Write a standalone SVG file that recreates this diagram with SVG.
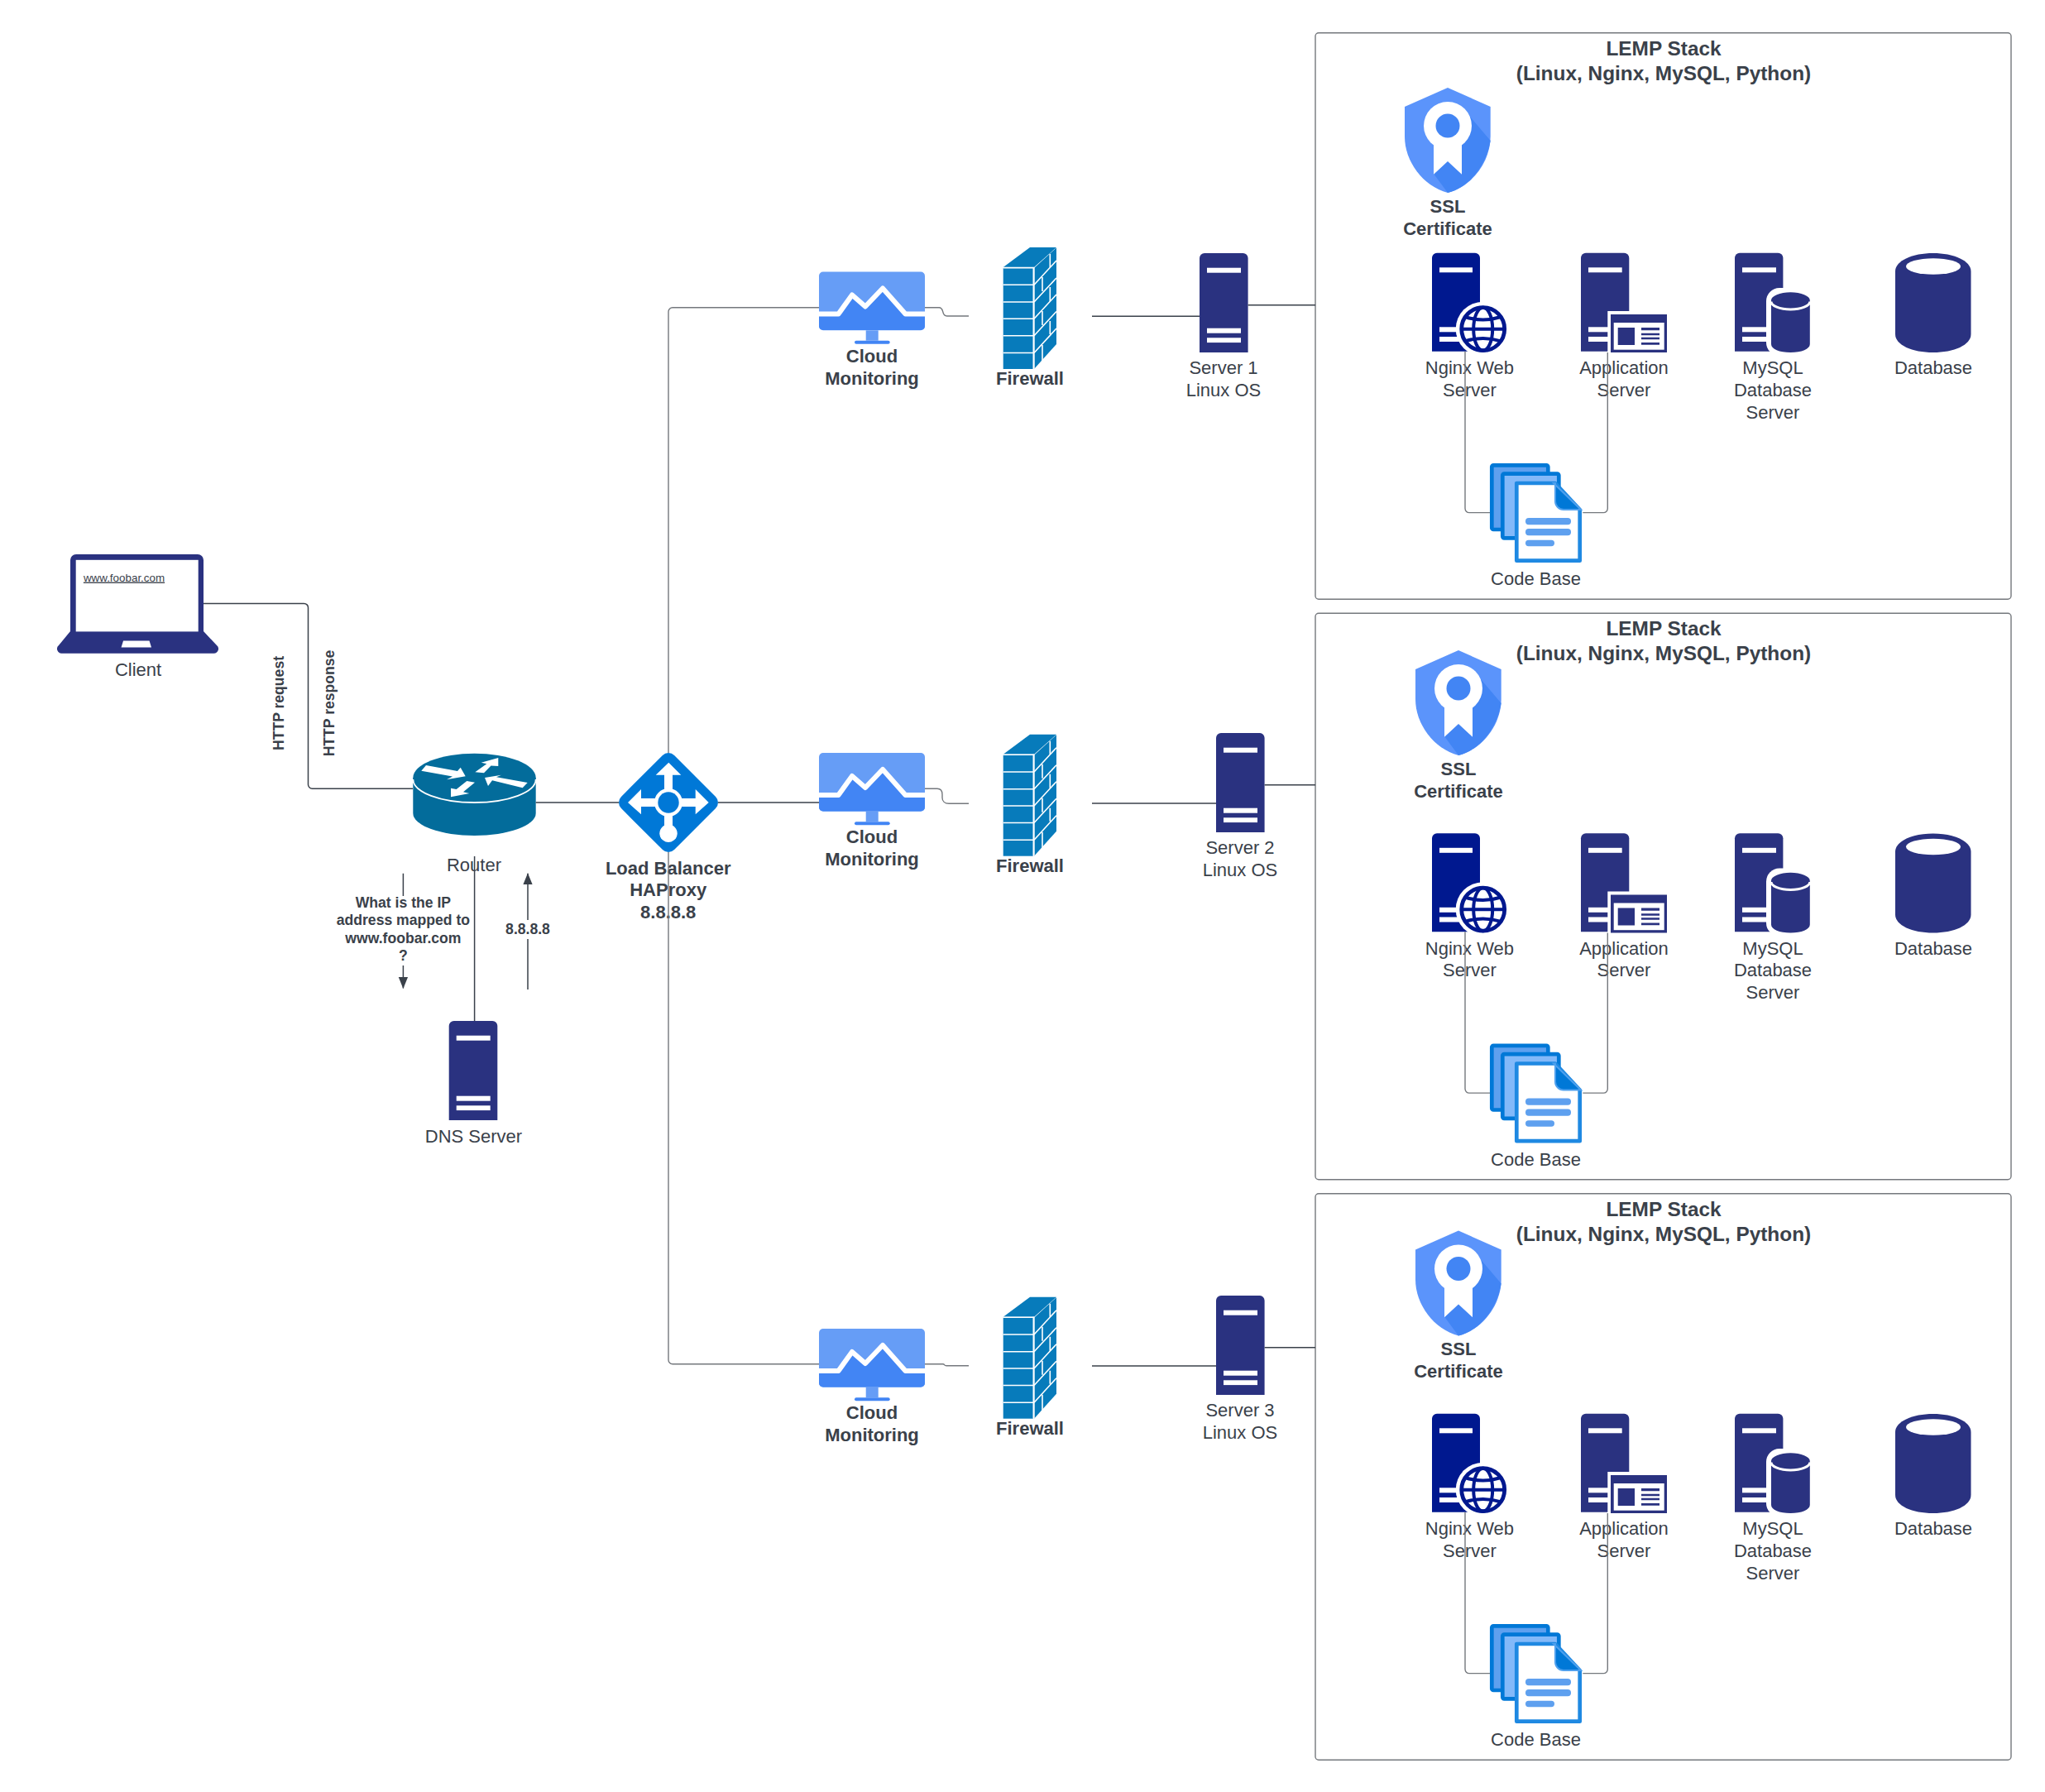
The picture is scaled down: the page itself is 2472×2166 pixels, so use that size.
<svg xmlns="http://www.w3.org/2000/svg" width="2472" height="2166" viewBox="0 0 2472 2166">
<style>
text{font-family:"Liberation Sans",Arial,sans-serif;fill:#3a414a;text-anchor:middle}
.t{font-size:22px}
.b{font-size:22px;font-weight:700}
.h{font-size:24.4px;font-weight:700}
.s{font-size:17.6px;font-weight:700}
.c{fill:none;stroke:#3a414a;stroke-width:1.5}
.g{fill:none;stroke:#74787d;stroke-width:1.4}
.box{fill:#fff;stroke:#74787d;stroke-width:1.4}
.w{fill:#fff}
.n{fill:#2a3280}
.m{fill:#00188f}
</style>
<defs>
<marker id="tip" markerUnits="userSpaceOnUse" markerWidth="14" markerHeight="17" refX="15.5" refY="6.5" orient="auto" viewBox="0 0 16 13"><path d="M0 0L16 6.5L0 13Z" fill="#3a414a"/></marker>
<g id="bars"><rect class="w" x="9" y="17.7" width="41" height="6"/><rect class="w" x="9" y="90.7" width="41" height="6"/><rect class="w" x="9" y="102.3" width="41" height="5.8"/></g>
<g id="server"><path class="n" d="M0 120V6a6 6 0 0 1 6-6H52.6a6 6 0 0 1 6 6V120Z"/><use href="#bars"/></g>
<g id="monitor">
<rect x="990" y="328.5" width="128" height="70.8" rx="5" fill="#669df6"/>
<path d="M990 381H1014L1030 358L1046 372L1067 350L1094 381H1118V394a5 5 0 0 1-5 5H995a5 5 0 0 1-5-5Z" fill="#4285f4"/>
<path d="M990 379.5H1013.5L1030 356.5L1046 370.5L1067 348.5L1094.5 379.5H1118" fill="none" stroke="#fff" stroke-width="6" stroke-linejoin="round"/>
<rect x="1046.7" y="399.3" width="15" height="12.4" fill="#669df6"/>
<rect x="1033" y="411.7" width="42.7" height="4" rx="2" fill="#4285f4"/>
</g>
<g id="firewall">
<path d="M1212.7 323L1245 299H1277L1250 323Z" fill="#077bbb"/>
<path d="M1250 324L1277 299.5V416L1250 446Z" fill="#077bbb"/>
<rect x="1212.7" y="324" width="36.3" height="122" fill="#077bbb"/>
<g fill="none" stroke="#fff" stroke-width="1.6">
<path d="M1212.7 344.3H1249M1212.7 365H1249M1212.7 385.3H1249M1212.7 405.8H1249M1212.7 426.5H1249M1212.7 323.6H1250"/>
<path d="M1249.6 323V446" stroke-width="2.2"/>
<path d="M1250 344.3L1277 315M1250 365L1277 336M1250 385.3L1277 356M1250 405.8L1277 376.5M1250 426.5L1277 397"/>
<path d="M1269.3 307V323M1260 335V352M1269.3 347V364M1260 376V393M1269.3 388V404M1260 417V436"/>
</g>
</g>
<g id="shield">
<path d="M1750 106L1801.7 129V165C1801.7 195 1780 225 1750 233C1720 225 1698 195 1698 165V129Z" fill="#5b94fb"/>
<path d="M1777 141L1801.7 170C1797 198 1778 226 1750 233L1733 210L1750 170Z" fill="#4285f4"/>
<circle class="w" cx="1750" cy="152" r="29"/>
<path class="w" d="M1733 160V210.7L1750 195L1767 210.7V160Z"/>
<circle cx="1750" cy="152" r="14.5" fill="#4285f4"/>
</g>
<g id="nginx">
<path class="m" d="M1731 424.7V311.7a6 6 0 0 1 6-6H1783a6 6 0 0 1 6 6V424.7Z"/>
<rect class="w" x="1740" y="323.3" width="40" height="6"/><rect class="w" x="1740" y="395.3" width="40" height="6"/><rect class="w" x="1740" y="407" width="40" height="6"/>
<circle class="w" cx="1792.7" cy="397.7" r="33"/>
<circle class="w" cx="1792.7" cy="397.7" r="26" stroke="#00188f" stroke-width="4.8"/>
<g fill="none" stroke="#00188f" stroke-width="4">
<ellipse cx="1792.7" cy="397.7" rx="11.5" ry="26"/>
<path d="M1766.7 397.7H1818.7M1771 383Q1792.700 390 1814.400 383M1771 412.400Q1792.700 405.400 1814.400 412.400"/>
</g>
</g>
<g id="app">
<path class="n" d="M1911 424.7V311.7a6 6 0 0 1 6-6H1963.3a6 6 0 0 1 6 6V424.7Z"/>
<rect class="w" x="1920" y="323.3" width="40.7" height="6"/><rect class="w" x="1920" y="395.3" width="40" height="6"/><rect class="w" x="1920" y="407" width="40" height="6"/>
<rect class="w" x="1943.3" y="376" width="71.7" height="50.7"/>
<rect class="n" x="1947" y="380" width="68" height="46"/>
<rect class="w" x="1950.7" y="390" width="61" height="32.7"/>
<rect class="n" x="1955.7" y="396" width="20.3" height="21"/>
<path class="n" d="M1984 396H2006V399.3H1984ZM1984 402.7H2006V405.3H1984ZM1984 407.7H2006V410.3H1984ZM1984 414H2006V416.7H1984Z"/>
</g>
<g id="mysql">
<path class="n" d="M2097 424.7V311.7a6 6 0 0 1 6-6H2149.4a6 6 0 0 1 6 6V424.7Z"/>
<rect class="w" x="2106" y="323.3" width="41" height="6"/><rect class="w" x="2106" y="395.3" width="40" height="6"/><rect class="w" x="2106" y="407" width="40" height="6"/>
<rect class="w" x="2135" y="348" width="60" height="82" rx="16"/>
<path class="n" d="M2141 363a23.4 9.7 0 0 1 46.8 0V416c0 6-10 10-23.4 10s-23.4-4-23.4-10Z"/>
<path d="M2141 364.5a23.4 9.5 0 0 0 46.8 0" fill="none" stroke="#fff" stroke-width="3"/>
</g>
<g id="db">
<path class="n" d="M2291 328C2291 315 2312 306 2336.7 306S2382.5 315 2382.5 328V404C2382.5 417 2362 426 2336.7 426S2291 417 2291 404Z"/>
<ellipse class="w" cx="2337" cy="322" rx="33" ry="9.8"/>
</g>
<g id="code">
<rect x="1803.3" y="562.3" width="68" height="77.7" rx="2" fill="#5ea0ef" stroke="#0078d7" stroke-width="4.7"/>
<rect x="1816.3" y="572.6" width="68" height="77.7" rx="2" fill="#83b9f9" stroke="#0078d7" stroke-width="4.7"/>
<path d="M1833.3 584H1880L1909.7 616V677.7H1833.3Z" fill="#fff" stroke="#1f89e2" stroke-width="4.7" stroke-linejoin="round"/>
<path d="M1878 584L1911 616H1890a10 10 0 0 1-10-10V584Z" fill="#0078d7" stroke="#4ea0ee" stroke-width="2"/>
<g fill="#5ea0ef"><rect x="1844" y="626" width="55" height="8.3" rx="4"/><rect x="1844" y="639" width="55" height="8.3" rx="4"/><rect x="1844" y="652.7" width="35" height="7.5" rx="3.7"/></g>
</g>
</defs>
<rect width="2472" height="2166" fill="#fff"/>

<g id="stack-1"><rect class="box" x="1590" y="39.7" width="841" height="684.6" rx="4"/>
<text class="h" x="2011" y="66.5">LEMP Stack</text><text class="h" x="2011" y="96.5">(Linux, Nginx, MySQL, Python)</text></g>
<g id="stack-2"><rect class="box" x="1590" y="741.2" width="841" height="684.6" rx="4"/>
<text class="h" x="2011" y="768">LEMP Stack</text><text class="h" x="2011" y="798">(Linux, Nginx, MySQL, Python)</text></g>
<g id="stack-3"><rect class="box" x="1590" y="1442.7" width="841" height="684.6" rx="4"/>
<text class="h" x="2011" y="1469.5">LEMP Stack</text><text class="h" x="2011" y="1499.5">(Linux, Nginx, MySQL, Python)</text></g>

<g id="client">
<path class="n" d="M85 763V677a7 7 0 0 1 7-7H239a7 7 0 0 1 7 7V763L262 780a5.500 5.500 0 0 1-4 9.700H75a5.500 5.500 0 0 1-4-9.700Z"/>
<rect class="w" x="91.700" y="676.800" width="148" height="86.600"/>
<path class="w" d="M149 774.400H180.500L183 782.500H146.500Z"/>
<text x="150" y="702.600" style="font-size:13.400px;text-decoration:underline">www.foobar.com</text>
<text class="t" x="167" y="817">Client</text>
</g>
<g id="router">
<path d="M499.300 940V983A74.200 27 0 0 0 647.700 983V940Z" fill="#036c9b"/>
<ellipse cx="573.500" cy="940" rx="74.200" ry="29.300" fill="#036c9b"/>
<path d="M499.300 942A74.200 28 0 0 0 647.700 942" fill="none" stroke="#fff" stroke-width="1.800"/>
<g class="w">
<polygon points="515,925 553,932 556.700,927.700 562.700,938.300 540,942.300 547,938.500 509.300,931.700"/>
<polygon points="574.300,933.300 588.300,923.300 581.700,921.700 602.300,916 602.300,926 593.500,925.500 585,934.300"/>
<polygon points="637.700,946 600,939.300 606,936.700 586,940 590,950 595,943.300 631.700,952.300"/>
<polygon points="564.300,944 574,945.700 560,957.300 567.300,959 545,963.300 545,952.700 551.700,954"/>
</g>
<text class="t" x="573" y="1053">Router</text>
</g>
<g id="load-balancer">
<rect x="-45.350" y="-45.350" width="90.700" height="90.700" rx="10" transform="translate(808 970) rotate(45)" fill="#0078d7"/>
<g class="w">
<polygon points="808.300,921.700 823.300,936.700 813,936.700 813,955 803,955 803,936.700 792.700,936.700"/>
<polygon points="759,970 775,954 775,965 793,965 793,975 775,975 775,984.300"/>
<polygon points="856.700,970 840.700,954 840.700,965 823,965 823,975 840.700,975 840.700,984.300"/>
<circle cx="808" cy="970" r="17"/>
<rect x="803" y="985" width="10" height="16"/>
<circle cx="808" cy="1007.300" r="10.700"/>
</g>
<circle cx="808" cy="970" r="12.700" fill="#0078d7"/>
<text class="b" x="807.700" y="1056.700">Load Balancer</text>
<text class="b" x="807.700" y="1083">HAProxy</text>
<text class="b" x="807.700" y="1110">8.8.8.8</text>
</g>
<g id="dns-server"><use href="#server" x="542.700" y="1234"/><text class="t" x="572.500" y="1381">DNS Server</text></g>

<g id="http-labels">
<text class="s" transform="translate(343 850) rotate(-90)">HTTP request</text>
<text class="s" transform="translate(404 850) rotate(-90)">HTTP response</text>
</g>
<g id="dns-question">
<text class="s" x="487.400" y="1096.500">What is the IP</text>
<text class="s" x="487.400" y="1118">address mapped to</text>
<text class="s" x="487.400" y="1139.500">www.foobar.com</text>
<text class="s" x="487.400" y="1161">?</text>
</g>
<g id="dns-answer"><text class="s" x="638" y="1128.500">8.8.8.8</text></g>

<g id="monitor-1"><use href="#monitor"/><text class="b" x="1054" y="438">Cloud</text><text class="b" x="1054" y="465">Monitoring</text></g>
<g id="monitor-2"><use href="#monitor" y="581.500"/><text class="b" x="1054" y="1019">Cloud</text><text class="b" x="1054" y="1045.800">Monitoring</text></g>
<g id="monitor-3"><use href="#monitor" y="1277.500"/><text class="b" x="1054" y="1715">Cloud</text><text class="b" x="1054" y="1742">Monitoring</text></g>
<g id="firewall-1"><use href="#firewall"/><text class="b" x="1245" y="465">Firewall</text></g>
<g id="firewall-2"><use href="#firewall" y="588.700"/><text class="b" x="1245" y="1053.500">Firewall</text></g>
<g id="firewall-3"><use href="#firewall" y="1268.700"/><text class="b" x="1245" y="1733.500">Firewall</text></g>
<g id="server-1"><use href="#server" x="1450" y="306"/><text class="t" x="1479" y="452">Server 1</text><text class="t" x="1479" y="478.500">Linux OS</text></g>
<g id="server-2"><use href="#server" x="1470" y="886"/><text class="t" x="1499" y="1032">Server 2</text><text class="t" x="1499" y="1058.500">Linux OS</text></g>
<g id="server-3"><use href="#server" x="1470" y="1566"/><text class="t" x="1499" y="1712">Server 3</text><text class="t" x="1499" y="1738.500">Linux OS</text></g>

<g id="ssl-1"><use href="#shield"/><text class="b" x="1750" y="256.500">SSL</text><text class="b" x="1750" y="283.500">Certificate</text></g>
<g id="nginx-1"><use href="#nginx"/><text class="t" x="1776.400" y="452">Nginx Web</text><text class="t" x="1776.400" y="478.500">Server</text></g>
<g id="app-1"><use href="#app"/><text class="t" x="1963" y="452">Application</text><text class="t" x="1963" y="478.500">Server</text></g>
<g id="mysql-1"><use href="#mysql"/><text class="t" x="2143" y="452">MySQL</text><text class="t" x="2143" y="478.500">Database</text><text class="t" x="2143" y="505.500">Server</text></g>
<g id="db-1"><use href="#db"/><text class="t" x="2337" y="452">Database</text></g>
<g id="code-1"><use href="#code"/><text class="t" x="1856.500" y="707">Code Base</text></g>

<g id="ssl-2"><use href="#shield" x="13" y="680"/><text class="b" x="1763" y="936.500">SSL</text><text class="b" x="1763" y="963.500">Certificate</text></g>
<g id="nginx-2"><use href="#nginx" y="701.500"/><text class="t" x="1776.400" y="1153.500">Nginx Web</text><text class="t" x="1776.400" y="1180">Server</text></g>
<g id="app-2"><use href="#app" y="701.500"/><text class="t" x="1963" y="1153.500">Application</text><text class="t" x="1963" y="1180">Server</text></g>
<g id="mysql-2"><use href="#mysql" y="701.500"/><text class="t" x="2143" y="1153.500">MySQL</text><text class="t" x="2143" y="1180">Database</text><text class="t" x="2143" y="1207">Server</text></g>
<g id="db-2"><use href="#db" y="701.500"/><text class="t" x="2337" y="1153.500">Database</text></g>
<g id="code-2"><use href="#code" y="701.500"/><text class="t" x="1856.500" y="1408.500">Code Base</text></g>

<g id="ssl-3"><use href="#shield" x="13" y="1381.500"/><text class="b" x="1763" y="1638">SSL</text><text class="b" x="1763" y="1665">Certificate</text></g>
<g id="nginx-3"><use href="#nginx" y="1403"/><text class="t" x="1776.400" y="1855">Nginx Web</text><text class="t" x="1776.400" y="1881.500">Server</text></g>
<g id="app-3"><use href="#app" y="1403"/><text class="t" x="1963" y="1855">Application</text><text class="t" x="1963" y="1881.500">Server</text></g>
<g id="mysql-3"><use href="#mysql" y="1403"/><text class="t" x="2143" y="1855">MySQL</text><text class="t" x="2143" y="1881.500">Database</text><text class="t" x="2143" y="1908.500">Server</text></g>
<g id="db-3"><use href="#db" y="1403"/><text class="t" x="2337" y="1855">Database</text></g>
<g id="code-3"><use href="#code" y="1403"/><text class="t" x="1856.500" y="2110">Code Base</text></g>

<g id="connectors">
<path class="c" d="M246 729.400H367.500a5 5 0 0 1 5 5V948.300a5 5 0 0 0 5 5H499"/>
<path class="c" d="M647.700 970H748"/>
<path class="c" d="M573.600 1035V1234"/>
<path class="g" d="M990 371.700H813a5 5 0 0 0-5 5V910"/>
<path class="g" d="M808 1030V1643.700a5 5 0 0 0 5 5H990"/>
<path class="c" d="M868 970H990"/>
<path class="c" d="M487.400 1055.700V1083M487.400 1167V1194.500" marker-end="url(#tip)"/>
<path class="c" d="M638 1196V1135M638 1112V1055.700" marker-end="url(#tip)"/>

<path class="g" d="M1118 371.700H1135c3 0 4 2 4.700 5c.7 3.500 2 5.300 5 5.300H1171"/>
<path class="c" d="M1320 382.300H1450"/>
<path class="c" d="M1508.600 368.700H1590"/>
<path class="g" d="M1118 953.300H1133c4 0 6 3 6 7v4c0 4 3 7 8 7H1171"/>
<path class="c" d="M1320 971H1470"/>
<path class="c" d="M1528.600 948.700H1590"/>
<path class="g" d="M1118 1648.700H1140c2 0 1 2 4 2H1171"/>
<path class="c" d="M1320 1651H1470"/>
<path class="c" d="M1528.600 1628.700H1590"/>

<path class="g" d="M1771 424.700V614.600a5 5 0 0 0 5 5H1801"/>
<path class="g" d="M1943.300 426V614.600a5 5 0 0 1-5 5H1913.300"/>
<path class="g" d="M1771 1126.200V1316.100a5 5 0 0 0 5 5H1801"/>
<path class="g" d="M1943.300 1127.500V1316.100a5 5 0 0 1-5 5H1913.300"/>
<path class="g" d="M1771 1827.700V2017.600a5 5 0 0 0 5 5H1801"/>
<path class="g" d="M1943.300 1829V2017.600a5 5 0 0 1-5 5H1913.300"/>
</g>
</svg>
